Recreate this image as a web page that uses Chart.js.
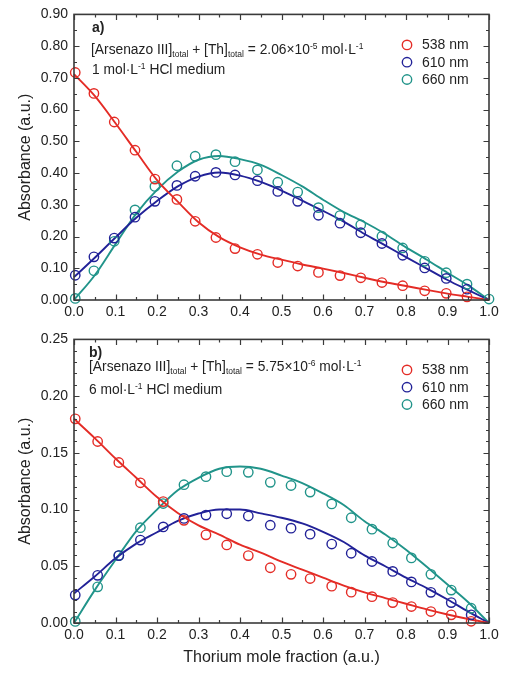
<!DOCTYPE html>
<html>
<head>
<meta charset="utf-8">
<script src="https://cdn.jsdelivr.net/npm/chart.js@4.4.1/dist/chart.umd.min.js"></script>
<style>
  html, body { margin:0; padding:0; background:#fff; }
  body { width:508px; height:675px; position:relative; overflow:hidden; font-family:"Liberation Sans", Arial, sans-serif; }
  canvas { position:absolute; left:0; }
  #c1 { top:0; }
  #c2 { top:325px; }
  .ann { position:absolute; font-size:13.8px; color:#222; white-space:nowrap; line-height:1; }
  .ann b { font-size:14px; }
  .sub { font-size:8.5px; position:relative; top:3px; }
  .sup { font-size:8.5px; position:relative; top:-5px; }
</style>
</head>
<body>
<canvas id="c1" width="508" height="325"></canvas>
<canvas id="c2" width="508" height="350"></canvas>

<div class="ann" style="left:92px; top:20px;"><b>a)</b></div>
<div class="ann" style="left:91px; top:43px;">[Arsenazo III]<span class="sub">total</span> + [Th]<span class="sub">total</span> = 2.06×10<span class="sup">-5</span> mol·L<span class="sup">-1</span></div>
<div class="ann" style="left:92px; top:63px;">1 mol·L<span class="sup">-1</span> HCl medium</div>

<div class="ann" style="left:89px; top:345px;"><b>b)</b></div>
<div class="ann" style="left:89px; top:360px;">[Arsenazo III]<span class="sub">total</span> + [Th]<span class="sub">total</span> = 5.75×10<span class="sup">-6</span> mol·L<span class="sup">-1</span></div>
<div class="ann" style="left:89px; top:383px;">6 mol·L<span class="sup">-1</span> HCl medium</div>

<script>
// ---------- Data: panel a) 1 mol/L HCl ----------
const xTop    = [0.003,0.048,0.097,0.147,0.195,0.248,0.292,0.342,0.388,0.442,0.491,0.539,0.589,0.641,0.691,0.742,0.792,0.845,0.897,0.947];
const xTop660 = [0.003,0.048,0.097,0.147,0.195,0.248,0.292,0.342,0.388,0.442,0.491,0.539,0.589,0.641,0.691,0.742,0.792,0.845,0.897,0.947,1.000];
const top538  = [0.717,0.651,0.561,0.472,0.381,0.317,0.248,0.197,0.162,0.144,0.118,0.107,0.087,0.077,0.070,0.055,0.045,0.029,0.021,0.010];
const top610  = [0.078,0.136,0.195,0.261,0.311,0.361,0.390,0.402,0.394,0.376,0.342,0.311,0.267,0.242,0.212,0.178,0.141,0.101,0.068,0.034];
const top660  = [0.005,0.092,0.185,0.284,0.358,0.423,0.453,0.458,0.436,0.410,0.371,0.340,0.291,0.266,0.237,0.201,0.164,0.122,0.086,0.050,0.003];

// fitted curves
const xFit      = [0,0.05,0.1,0.15,0.2,0.25,0.3,0.35,0.4,0.45,0.5,0.55,0.6,0.65,0.7,0.75,0.8,0.85,0.9,0.95,1.0];
const fitTop538 = [0.712,0.643,0.557,0.467,0.378,0.310,0.245,0.198,0.166,0.143,0.127,0.112,0.099,0.085,0.070,0.056,0.044,0.032,0.020,0.010,0];
const fitTop610 = [0.072,0.133,0.197,0.259,0.312,0.358,0.389,0.402,0.392,0.372,0.345,0.313,0.281,0.247,0.208,0.172,0.135,0.099,0.063,0.031,0];
const fitTop660 = [0,0.078,0.176,0.272,0.347,0.404,0.442,0.454,0.444,0.426,0.394,0.358,0.316,0.277,0.245,0.208,0.166,0.127,0.086,0.046,0];

// ---------- Data: panel b) 6 mol/L HCl ----------
const xBot   = [0.003,0.057,0.108,0.160,0.215,0.265,0.318,0.368,0.420,0.473,0.523,0.569,0.621,0.668,0.718,0.768,0.813,0.860,0.909,0.957];
const bot538 = [0.180,0.160,0.1415,0.1236,0.107,0.0905,0.0777,0.0688,0.0594,0.0487,0.0429,0.0392,0.0325,0.0272,0.0232,0.018,0.0145,0.0101,0.0072,0.0015];
const bot610 = [0.0246,0.042,0.0594,0.0731,0.0847,0.0922,0.0951,0.0963,0.0943,0.0862,0.0836,0.0783,0.0696,0.0615,0.0542,0.0455,0.0362,0.027,0.018,0.0072];
const bot660 = [0.0014,0.0319,0.0594,0.084,0.1053,0.1219,0.129,0.1334,0.1328,0.124,0.1212,0.1154,0.105,0.0928,0.0827,0.0705,0.0574,0.0429,0.029,0.013];

const fitBot538 = [0.180,0.163,0.145,0.128,0.111,0.097,0.086,0.078,0.069,0.062,0.054,0.047,0.040,0.033,0.027,0.022,0.017,0.012,0.0075,0.0035,0];
const fitBot610 = [0.026,0.041,0.057,0.070,0.080,0.090,0.0965,0.100,0.100,0.0966,0.0928,0.0878,0.0804,0.0714,0.0596,0.050,0.040,0.0308,0.0207,0.010,0];
const fitBot660 = [0,0.029,0.0555,0.081,0.100,0.117,0.128,0.136,0.138,0.136,0.130,0.1234,0.1143,0.104,0.0897,0.078,0.0646,0.0495,0.034,0.0183,0];

const seriesLabels = ['538 nm','610 nm','660 nm'];
const colors = ['#e42c26','#222298','#21948a'];
const AXIS = '#3a3a3a';
const TXT = '#222';
const FONT = '"Liberation Sans", Arial, sans-serif';

const pts = (xs, ys) => xs.map((x, i) => ({x, y: ys[i]}));

function pointDs(label, xs, ys, color) {
  return { label, data: pts(xs, ys), borderColor: color, backgroundColor: 'rgba(0,0,0,0)',
           pointRadius: 4.7, pointBorderWidth: 1.4, pointHoverRadius: 4.7, showLine: false,
           clip: false, legendItem: true };
}
function fitDs(xs, ys, color) {
  return { label: 'fit', data: pts(xs, ys), borderColor: color, backgroundColor: color,
           borderWidth: 1.9, pointRadius: 0, showLine: true, cubicInterpolationMode: 'monotone',
           clip: 2, legendItem: false };
}

const frameTicks = {
  id: 'frameTicks',
  afterDatasetsDraw(chart, args, o) {
    const {ctx, chartArea: a, scales: {x, y}} = chart;
    ctx.save();
    ctx.strokeStyle = AXIS;
    ctx.lineWidth = 1.2;
    const eps = 1e-9;
    const drawX = (step, len, skip) => {
      for (let i = 0; ; i++) {
        const v = x.min + i * step;
        if (v > x.max + eps) break;
        if (skip && Math.abs(v / skip - Math.round(v / skip)) < 1e-6) continue;
        const px = Math.round(x.getPixelForValue(v)) + 0.5;
        ctx.beginPath();
        ctx.moveTo(px, a.bottom); ctx.lineTo(px, a.bottom - len);
        ctx.moveTo(px, a.top); ctx.lineTo(px, a.top + len);
        ctx.stroke();
      }
    };
    const drawY = (step, len, skip) => {
      for (let i = 0; ; i++) {
        const v = y.min + i * step;
        if (v > y.max + eps) break;
        if (skip && Math.abs(v / skip - Math.round(v / skip)) < 1e-6) continue;
        const py = Math.round(y.getPixelForValue(v)) + 0.5;
        ctx.beginPath();
        ctx.moveTo(a.left, py); ctx.lineTo(a.left + len, py);
        ctx.moveTo(a.right, py); ctx.lineTo(a.right - len, py);
        ctx.stroke();
      }
    };
    drawX(o.xMajor, 5.5, 0); drawX(o.xMinor, 3, o.xMajor);
    drawY(o.yMajor, 5.5, 0); drawY(o.yMinor, 3, o.yMajor);
    ctx.lineWidth = 1.6;
    ctx.strokeRect(a.left, a.top, a.right - a.left, a.bottom - a.top);

    // legend
    const items = chart.data.datasets.filter(d => d.legendItem);
    ctx.font = '14px ' + FONT;
    ctx.textBaseline = 'middle';
    ctx.textAlign = 'left';
    items.forEach((d, i) => {
      const cx = a.left + 333, cy = a.top + 30.5 + i * 17.3;
      ctx.beginPath();
      ctx.lineWidth = 1.4;
      ctx.strokeStyle = d.borderColor;
      ctx.arc(cx, cy, 4.7, 0, Math.PI * 2);
      ctx.stroke();
      ctx.fillStyle = TXT;
      ctx.fillText(d.label, cx + 15, cy + 0.5);
    });
    ctx.restore();
  }
};

function makeChart(id, datasets, yMax, yStep, yMinor, padTop, xAxisH, showXTitle) {
  return new Chart(document.getElementById(id), {
    type: 'scatter',
    data: { datasets },
    plugins: [frameTicks],
    options: {
      responsive: false, animation: false, devicePixelRatio: 1,
      layout: { autoPadding: false, padding: { left: 0, right: 19, top: padTop, bottom: 0 } },
      plugins: {
        legend: { display: false }, tooltip: { enabled: false },
        frameTicks: { xMajor: 0.1, xMinor: 0.05, yMajor: yStep, yMinor: yMinor }
      },
      scales: {
        x: {
          type: 'linear', min: 0, max: 1,
          grid: { display: false, drawTicks: false }, border: { display: false },
          ticks: { stepSize: 0.1, padding: 4, color: TXT, font: { size: 14, family: FONT },
                   maxRotation: 0, callback: v => Number(v).toFixed(1) },
          title: { display: showXTitle, text: 'Thorium mole fraction (a.u.)', color: TXT,
                   font: { size: 16, family: FONT }, padding: { top: 0, bottom: 8 } },
          afterFit: s => { s.height = xAxisH; }
        },
        y: {
          type: 'linear', min: 0, max: yMax,
          grid: { display: false, drawTicks: false }, border: { display: false },
          ticks: { stepSize: yStep, padding: 6, color: TXT, font: { size: 14, family: FONT },
                   callback: v => Number(v).toFixed(2) },
          title: { display: true, text: 'Absorbance (a.u.)', color: TXT,
                   font: { size: 16, family: FONT }, padding: { top: 16, bottom: 0 } },
          afterFit: s => { s.width = 74; }
        }
      }
    }
  });
}

makeChart('c1', [
  pointDs(seriesLabels[0], xTop, top538, colors[0]),
  pointDs(seriesLabels[1], xTop, top610, colors[1]),
  pointDs(seriesLabels[2], xTop660, top660, colors[2]),
  fitDs(xFit, fitTop538, colors[0]),
  fitDs(xFit, fitTop610, colors[1]),
  fitDs(xFit, fitTop660, colors[2])
], 0.9, 0.1, 0.05, 13, 25, false);

makeChart('c2', [
  pointDs(seriesLabels[0], xBot, bot538, colors[0]),
  pointDs(seriesLabels[1], xBot, bot610, colors[1]),
  pointDs(seriesLabels[2], xBot, bot660, colors[2]),
  fitDs(xFit, fitBot538, colors[0]),
  fitDs(xFit, fitBot610, colors[1]),
  fitDs(xFit, fitBot660, colors[2])
], 0.25, 0.05, 0.01, 11, 52, true);
</script>
</body>
</html>
